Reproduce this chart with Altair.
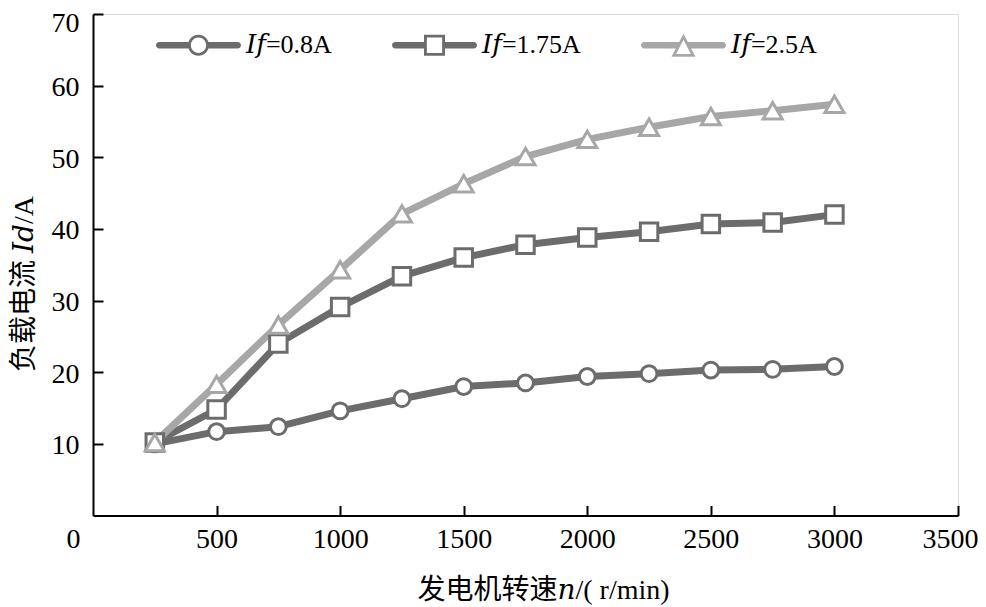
import altair as alt
import pandas as pd

# ---- data ----
speed = [250, 500, 750, 1000, 1250, 1500, 1750, 2000, 2250, 2500, 2750, 3000]
i_08 = [10.0, 11.7, 12.4, 14.6, 16.3, 18.0, 18.5, 19.4, 19.8, 20.3, 20.4, 20.8]
i_175 = [10.2, 14.8, 24.0, 29.1, 33.4, 36.0, 37.8, 38.8, 39.6, 40.7, 40.9, 42.0]
i_25 = [10.2, 18.3, 26.6, 34.3, 42.1, 46.3, 50.1, 52.5, 54.2, 55.7, 56.5, 57.4]
names = ["𝐼𝑓=0.8A", "𝐼𝑓=1.75A", "𝐼𝑓=2.5A"]
x_ticks = [0, 500, 1000, 1500, 2000, 2500, 3000, 3500]
y_ticks = [0, 10, 20, 30, 40, 50, 60, 70]

rows = []
for name, vals in zip(names, [i_08, i_175, i_25]):
    for s, v in zip(speed, vals):
        rows.append({"speed": s, "current": v, "series": name})
df = pd.DataFrame(rows)

# ---- styles ----
colors = ["#6c6c6c", "#6c6c6c", "#a7a7a7"]
FONT = "Liberation Serif, DejaVu Serif, Noto Sans CJK SC"
W, H = 865, 501.5


def f(v):
    return f"{v:.4f}"


t = 0.078  # half thickness of legend line (unit coords)


def bars(xt, xb):
    left = (f"M{f(-1 + t)},{f(-t)} A{f(t)},{f(t)} 0 0,0 {f(-1 + t)},{f(t)} "
            f"L{f(-xb)},{f(t)} L{f(-xt)},{f(-t)} Z ")
    right = (f"M{f(xt)},{f(-t)} L{f(xb)},{f(t)} L{f(1 - t)},{f(t)} "
             f"A{f(t)},{f(t)} 0 0,0 {f(1 - t)},{f(-t)} Z ")
    return left + right


R, r = 0.247, 0.18
circle_path = bars(0.21, 0.21) + (
    f"M{f(R)},0 A{f(R)},{f(R)} 0 1,0 {f(-R)},0 A{f(R)},{f(R)} 0 1,0 {f(R)},0 Z "
    f"M{f(r)},0 A{f(r)},{f(r)} 0 1,1 {f(-r)},0 A{f(r)},{f(r)} 0 1,1 {f(r)},0 Z")
s, q = 0.247, 0.18
square_path = bars(0.21, 0.21) + (
    f"M{f(-s)},{f(-s)} L{f(-s)},{f(s)} L{f(s)},{f(s)} L{f(s)},{f(-s)} Z "
    f"M{f(-q)},{f(-q)} L{f(q)},{f(-q)} L{f(q)},{f(q)} L{f(-q)},{f(q)} Z")
b, hy = 0.282, 0.27
ia, ib, iy = -0.1275, 0.173, 0.204
tri_path = bars(0.09, 0.14) + (
    f"M0,{f(-hy)} L{f(-b)},{f(hy)} L{f(b)},{f(hy)} Z "
    f"M0,{f(ia)} L{f(ib)},{f(iy)} L{f(-ib)},{f(iy)} Z")
legend_paths = [circle_path, square_path, tri_path]

xscale = alt.Scale(domain=[0, 3500], nice=False, zero=False)
yscale = alt.Scale(domain=[0, 70], nice=False)

x_main = alt.X(
    "speed:Q", scale=xscale,
    axis=alt.Axis(
        values=x_ticks, ticks=False, tickSize=0, grid=False, format="d",
        domainColor="black", domainWidth=2, labelFlush=False,
        labelFont=FONT, labelFontSize=28, labelColor="black", labelPadding=10,
        labelOffset={"condition": [{"test": "datum.value === 0", "value": -20},
                                   {"test": "datum.value === 3500", "value": -8}],
                     "value": 0},
        title="发电机转速𝑛/( r/min)", titleFont=FONT, titleFontSize=28,
        titleFontWeight="normal", titleColor="black",
        titleX=450, titleY=75, titleBaseline="middle", titleAlign="center"))
y_main = alt.Y(
    "current:Q", scale=yscale,
    axis=alt.Axis(
        values=y_ticks, ticks=False, tickSize=0, grid=False,
        domainColor="black", domainWidth=2, labelFlush=False,
        labelExpr="datum.value === 0 ? '' : datum.label",
        labelFont=FONT, labelFontSize=28, labelColor="black", labelPadding=14,
        labelOffset={"condition": {"test": "datum.value === 70", "value": 9},
                     "value": 2},
        title="负载电流 𝐼𝑑/A", titleFont=FONT, titleFontSize=28,
        titleFontWeight="normal", titleColor="black",
        titleX=-69, titleY=269.5, titleBaseline="middle", titleAlign="center"))

lines = alt.Chart(df).mark_line(strokeWidth=7, strokeJoin="round", strokeCap="round").encode(
    x=x_main, y=y_main,
    stroke=alt.Stroke("series:N", scale=alt.Scale(domain=names, range=colors), legend=None),
)

x_ticks_axis = alt.X(
    "speed:Q", scale=xscale,
    axis=alt.Axis(orient="top", offset=-H, values=x_ticks[1:], labels=False,
                  domain=False, ticks=True, tickSize=10, tickWidth=2,
                  tickColor="black", grid=False, title=None))
y_ticks_axis = alt.Y(
    "current:Q", scale=yscale,
    axis=alt.Axis(orient="right", offset=-W, values=y_ticks[1:], labels=False,
                  domain=False, ticks=True, tickSize=10, tickWidth=2,
                  tickColor="black", grid=False, title=None))

points = alt.Chart(df).mark_point(filled=True, fill="white", strokeWidth=3, opacity=1).encode(
    x=x_ticks_axis, y=y_ticks_axis,
    shape=alt.Shape("series:N", scale=alt.Scale(domain=names, range=["circle", "square", "triangle-up"]), legend=None),
    stroke=alt.Stroke("series:N", scale=alt.Scale(domain=names, range=colors), legend=None),
    size=alt.Size("series:O", scale=alt.Scale(domain=names, range=[250, 361, 729]), legend=None),
)

leg_def = dict(orient="none", legendX=63, legendY=-11.5, direction="horizontal",
               title=None, symbolSize=7225, symbolOpacity=1, symbolStrokeWidth=0,
               symbolFillColor="#6c6c6c",
               labelFont=FONT, labelFontSize=26, labelColor="black",
               labelOffset=5, columnPadding=60)

legend_layer = alt.Chart(df).mark_point(filled=True, opacity=0).encode(
    x=alt.X("speed:Q", scale=xscale, axis=None),
    y=alt.Y("current:Q", scale=yscale, axis=None),
    shape=alt.Shape("series:N", scale=alt.Scale(domain=names, range=legend_paths),
                    legend=alt.Legend(**leg_def)),
    color=alt.Color("series:N", scale=alt.Scale(domain=names, range=colors),
                    legend=alt.Legend(**leg_def)),
)

chart = alt.layer(lines, points, legend_layer).resolve_scale(
    shape="independent", color="independent"
).resolve_axis(
    x="independent", y="independent"
).properties(
    width=W, height=H,
    autosize=alt.AutoSizeParams(type="none"),
    padding={"left": 85, "top": 6, "right": 20, "bottom": 91},
).configure_view(stroke=None).configure(background="white")

chart.save("out.html", embed_options={"renderer": "svg", "actions": False})
